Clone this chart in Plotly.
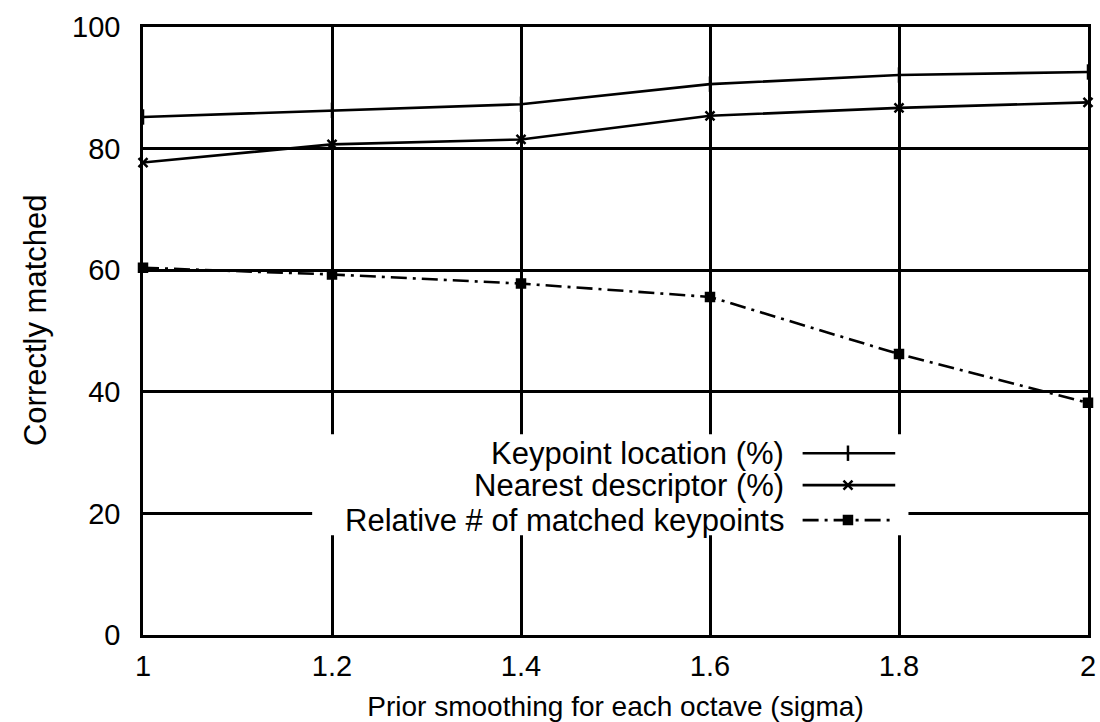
import plotly.graph_objects as go

# Prior smoothing (sigma) applied at each octave
sigma = [1.0, 1.2, 1.4, 1.6, 1.8, 2.0]

# Percent correctly matched for each configuration
keypoint_location = [85.2, 86.3, 87.3, 90.6, 92.1, 92.6]
nearest_descriptor = [77.7, 80.7, 81.5, 85.4, 86.7, 87.6]
relative_matched = [60.4, 59.3, 57.8, 55.6, 46.2, 38.2]

series_names = [
    "Keypoint location (%)",
    "Nearest descriptor (%)",
    "Relative # of matched keypoints",
]

x_ticks = [1, 1.2, 1.4, 1.6, 1.8, 2]
x_tick_text = ["1", "1.2", "1.4", "1.6", "1.8", "2"]
y_ticks = [0, 20, 40, 60, 80, 100]

FONT = "Liberation Sans, Arial, sans-serif"
INK = "black"
LW = 2.6
DASHDOT = "16px,6px,3px,6px"

styles = [
    dict(dash="solid", symbol="line-ns", size=11),
    dict(dash="solid", symbol="x-thin", size=9),
    dict(dash=DASHDOT, symbol="square", size=8),
]
values = [keypoint_location, nearest_descriptor, relative_matched]

fig = go.Figure()

for name, ys, st in zip(series_names, values, styles):
    fig.add_trace(go.Scatter(
        x=sigma, y=ys, mode="lines+markers", name=name,
        line=dict(color=INK, width=LW, dash=st["dash"]),
        marker=dict(symbol=st["symbol"], size=st["size"], color=INK,
                    line=dict(color=INK, width=2.5)),
        showlegend=False, cliponaxis=False,
    ))

# Blank panel behind the key (overlay axes span the plot area 0..1)
bx0, bx1, by0, by1 = 0.179, 0.810, 0.164, 0.330
fig.add_trace(go.Scatter(
    x=[bx0, bx1, bx1, bx0, bx0], y=[by0, by0, by1, by1, by0],
    mode="lines", fill="toself", fillcolor="white",
    line=dict(width=0, color="white"),
    xaxis="x2", yaxis="y2", showlegend=False, hoverinfo="skip",
))

# Key: text on the left, line sample with marker on the right
key_rows = [0.299, 0.2465, 0.189]
key_x0, key_x1, key_xm = 0.698, 0.796, 0.746
for name, yk, st in zip(series_names, key_rows, styles):
    fig.add_trace(go.Scatter(
        x=[key_x0, key_x1], y=[yk, yk], mode="lines",
        line=dict(color=INK, width=LW, dash=st["dash"]),
        xaxis="x2", yaxis="y2", showlegend=False, hoverinfo="skip",
    ))
    fig.add_trace(go.Scatter(
        x=[key_xm], y=[yk], mode="markers",
        marker=dict(symbol=st["symbol"], size=st["size"], color=INK,
                    line=dict(color=INK, width=2.5)),
        xaxis="x2", yaxis="y2", showlegend=False, hoverinfo="skip",
    ))
    fig.add_annotation(
        x=0.680, y=yk, xref="paper", yref="paper", text=name,
        showarrow=False, xanchor="right", yanchor="middle",
        font=dict(family=FONT, size=31, color=INK),
    )

# Vertical axis title
fig.add_annotation(
    x=-0.1143, y=0.518, xref="paper", yref="paper", text="Correctly matched",
    showarrow=False, textangle=-90, xanchor="center", yanchor="middle",
    font=dict(family=FONT, size=31, color=INK),
)

axis_common = dict(
    showline=True, linecolor=INK, linewidth=LW, mirror=True,
    showgrid=True, gridcolor=INK, gridwidth=LW,
    zeroline=False, ticks="", automargin=False,
    tickfont=dict(family=FONT, size=29, color=INK),
)

fig.update_layout(
    width=1100, height=722,
    margin=dict(l=143, r=12, t=27, b=87),
    paper_bgcolor="white", plot_bgcolor="white",
    font=dict(family=FONT, color=INK),
    xaxis=dict(
        range=[1, 2], tickvals=x_ticks, ticktext=x_tick_text,
        ticklabelstandoff=3,
        title=dict(text="Prior smoothing for each octave (sigma)",
                   font=dict(family=FONT, size=28, color=INK), standoff=20),
        **axis_common,
    ),
    yaxis=dict(
        range=[0, 100], tickvals=y_ticks,
        ticklabelstandoff=14,
        **axis_common,
    ),
    xaxis2=dict(overlaying="x", range=[0, 1], visible=False, fixedrange=True),
    yaxis2=dict(overlaying="y", range=[0, 1], visible=False, fixedrange=True),
)

fig.write_html("out.html")
